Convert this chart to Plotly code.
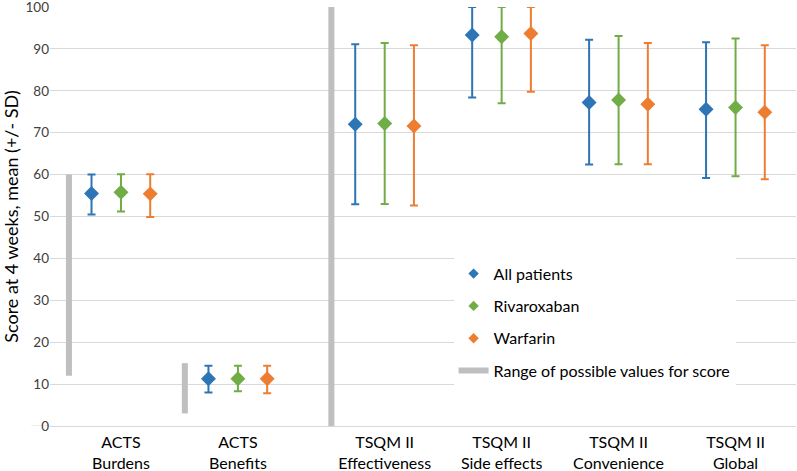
import plotly.graph_objects as go

categories = ["ACTS<br>Burdens", "ACTS<br>Benefits", "TSQM II<br>Effectiveness",
              "TSQM II<br>Side effects", "TSQM II<br>Convenience", "TSQM II<br>Global"]

all_mean = [55.5, 11.3, 72.0, 93.3, 77.2, 75.6]
all_hi = [60.0, 14.4, 91.1, 100.0, 92.2, 91.6]
all_lo = [50.5, 8.0, 52.9, 78.4, 62.4, 59.2]

riv_mean = [55.8, 11.3, 72.2, 92.9, 77.8, 76.0]
riv_hi = [60.1, 14.4, 91.4, 100.0, 93.1, 92.5]
riv_lo = [51.2, 8.3, 53.0, 77.0, 62.5, 59.6]

war_mean = [55.4, 11.3, 71.6, 93.7, 76.8, 74.9]
war_hi = [60.1, 14.4, 90.9, 100.0, 91.4, 90.9]
war_lo = [49.9, 7.8, 52.6, 79.8, 62.5, 58.9]

range_labels = ["ACTS Burdens", "ACTS Benefits", "TSQM II"]
range_min = [12, 3, 0]
range_max = [60, 15, 100]

# layout positions (not data)
pos = [1.0, 2.0, 3.255, 4.255, 5.255, 6.255]
range_pos = [0.555, 1.546, 2.799]
offsets = [-0.252, 0.0, 0.25]

colors = ["#2E75B6", "#70AD47", "#ED7D31"]
names = ["All patients", "Rivaroxaban", "Warfarin"]
series = [(all_mean, all_hi, all_lo), (riv_mean, riv_hi, riv_lo), (war_mean, war_hi, war_lo)]

FONT = "Lato"
fig = go.Figure()

for (m, hi, lo), c, off in zip(series, colors, offsets):
    fig.add_trace(go.Scatter(
        x=[p + off for p in pos], y=m, mode="markers", showlegend=False, hoverinfo="skip",
        marker=dict(symbol="diamond", size=11.5, color=c, line=dict(width=0)),
        error_y=dict(type="data", symmetric=False,
                     array=[h - v for h, v in zip(hi, m)],
                     arrayminus=[v - l for l, v in zip(lo, m)],
                     color=c, thickness=2, width=4),
    ))

for i, (n, c) in enumerate(zip(names, colors)):
    fig.add_trace(go.Scatter(x=[None], y=[None], mode="markers", name=n, legendgroup=f"g{i}",
                             marker=dict(symbol="diamond", size=8, color=c)))

rx, ry = [], []
for p, a, b in zip(range_pos, range_min, range_max):
    rx += [p, p, None]
    ry += [a, b, None]
fig.add_trace(go.Scatter(x=rx, y=ry, mode="lines", name="Range of possible values for score",
                         legendgroup="g3", hoverinfo="skip", line=dict(color="#BFBFBF", width=6)))

fig.update_layout(
    width=797, height=471,
    margin=dict(l=50, r=1, t=7, b=45, autoexpand=False),
    paper_bgcolor="white", plot_bgcolor="white",
    font=dict(family=FONT, size=14, color="#000000"),
    legend=dict(x=0.541, y=0.404, xanchor="left", yanchor="top",
                bgcolor="white", font=dict(size=16, family=FONT),
                tracegroupgap=8.5, itemwidth=30),
    xaxis=dict(range=[0.393, 6.772], tickmode="array", tickvals=pos, ticktext=categories,
               showgrid=False, zeroline=False, showline=False, ticks="", automargin=False,
               ticklabelstandoff=5, ticklabeloverflow="allow",
               tickfont=dict(size=16, family=FONT)),
    yaxis=dict(range=[0, 100], tickmode="array", tickvals=[0, 10, 20, 30, 40, 50, 60, 70, 80, 90, 100],
               showgrid=True, gridcolor="#D9D9D9", gridwidth=1, automargin=False,
               zeroline=True, zerolinecolor="#D9D9D9", zerolinewidth=1,
               ticklabeloverflow="allow",
               showline=False, ticks="", tickfont=dict(size=13.5, family=FONT, color="#404040"),
               title=dict(text="Score at 4 weeks, mean (+/- SD)", font=dict(size=18, family=FONT),
                          standoff=6)),
    showlegend=True,
)
fig.add_shape(type="line", xref="paper", yref="y", x0=-0.025, x1=0, y0=0, y1=0,
              line=dict(color="#D9D9D9", width=1), layer="below")

fig.write_html("out.html", config={"displayModeBar": False, "staticPlot": True},
               post_script="document.body.style.margin='0';")
